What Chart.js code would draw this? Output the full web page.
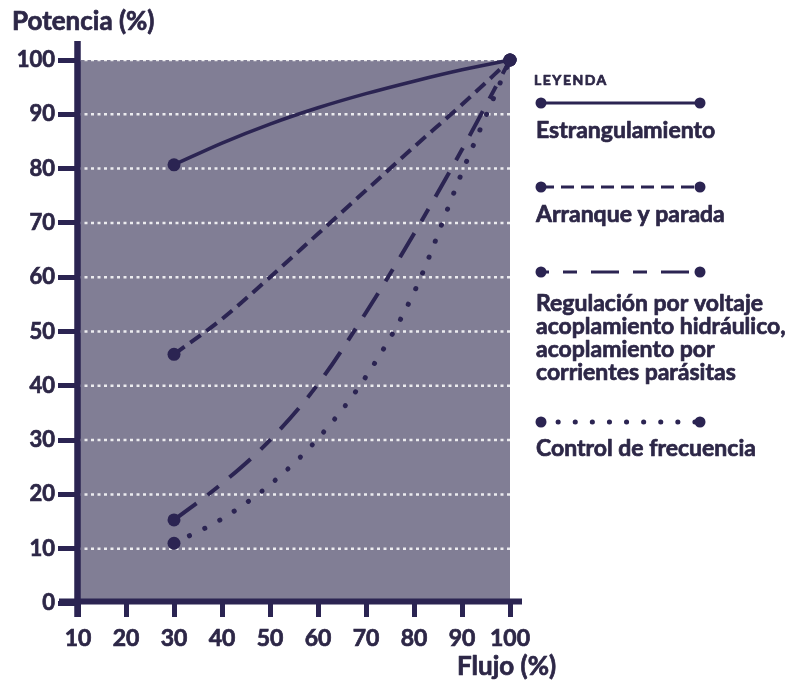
<!DOCTYPE html>
<html>
<head>
<meta charset="utf-8">
<script src="https://cdn.jsdelivr.net/npm/chart.js@4.4.1/dist/chart.umd.min.js"></script>
<style>
  html, body { margin: 0; padding: 0; background: #fff; }
  canvas { display: block; }
</style>
</head>
<body>
<canvas id="chart" width="795" height="685"></canvas>
<script>
// Data
const flujo = [30, 40, 50, 60, 70, 80, 90, 100];
const estrangulamiento = [80.7, 84.7, 88.2, 91.2, 93.8, 96.1, 98.2, 100];
const arranqueParada = [45.8, 52.3, 60, 68, 76, 84, 91.8, 100];
const regulacion = [15.3, 22, 30, 40.3, 53.5, 68, 83.5, 100];
const controlFrecuencia = [11, 15.5, 21.8, 30.3, 41.7, 57.2, 79.3, 100];
const seriesNames = [
  ['Estrangulamiento'],
  ['Arranque y parada'],
  ['Regulación por voltaje', 'acoplamiento hidráulico,', 'acoplamiento por', 'corrientes parásitas'],
  ['Control de frecuencia']
];
const xTicks = [10, 20, 30, 40, 50, 60, 70, 80, 90, 100];
const yTicks = [0, 10, 20, 30, 40, 50, 60, 70, 80, 90, 100];

const ink = '#2b2452';
const textInk = '#2d2747';
const font = 'Lato, "Open Sans", sans-serif';

function points(vals) {
  return flujo.map((x, i) => ({ x: x, y: vals[i] }));
}

const common = {
  borderColor: ink,
  backgroundColor: ink,
  pointBackgroundColor: ink,
  pointBorderWidth: 0,
  pointRadius: ctx => (ctx.dataIndex === 0 || ctx.dataIndex === flujo.length - 1) ? 6.5 : 0,
  pointHoverRadius: 0,
  tension: 0.4,
  cubicInterpolationMode: 'monotone',
  fill: false,
  clip: false
};

const datasets = [
  Object.assign({}, common, { label: seriesNames[0].join(' '), data: points(estrangulamiento), borderWidth: 3.5, borderDash: [] }),
  Object.assign({}, common, { label: seriesNames[1].join(' '), data: points(arranqueParada), borderWidth: 4, borderDash: [13, 7] }),
  Object.assign({}, common, { label: seriesNames[2].join(' '), data: points(regulacion), borderWidth: 4, borderDash: [28, 14, 14, 14] }),
  Object.assign({}, common, { label: seriesNames[3].join(' '), data: points(controlFrecuencia), borderWidth: 5, borderDash: [0.1, 17], borderCapStyle: 'round' })
];

// legend layout: sample line y, first text line y, dash offset
const legendRows = [
  { lineY: 103, textY: 131, offset: 0 },
  { lineY: 187, textY: 215, offset: 0 },
  { lineY: 272, textY: 304, offset: 20 },
  { lineY: 422, textY: 449, offset: 0 }
];

function boldText(ctx, t, x, y) {
  ctx.strokeText(t, x, y);
  ctx.fillText(t, x, y);
}

const decor = {
  id: 'decor',
  beforeDraw(chart) {
    const { ctx, chartArea: a } = chart;
    const y = chart.scales.y;
    ctx.save();
    ctx.fillStyle = '#817e95';
    ctx.fillRect(a.left, a.top, a.right - a.left, a.bottom - a.top);
    ctx.strokeStyle = 'rgba(255,255,255,0.85)';
    ctx.lineWidth = 2.5;
    ctx.setLineDash([3, 3.5]);
    yTicks.filter(v => v > 0).forEach(v => {
      const py = y.getPixelForValue(v);
      ctx.beginPath();
      ctx.moveTo(a.left, py);
      ctx.lineTo(a.right, py);
      ctx.stroke();
    });
    ctx.restore();
  },
  beforeDatasetsDraw(chart) {
    const { ctx, chartArea: a } = chart;
    ctx.save();
    ctx.strokeStyle = ink;
    ctx.lineCap = 'butt';
    ctx.lineWidth = 6.5;
    ctx.beginPath();
    ctx.moveTo(a.left - 0.5, 41);
    ctx.lineTo(a.left - 0.5, a.bottom + 14);
    ctx.stroke();
    ctx.lineWidth = 6;
    ctx.beginPath();
    ctx.moveTo(59, a.bottom - 1.5);
    ctx.lineTo(a.right + 12, a.bottom - 1.5);
    ctx.stroke();
    ctx.restore();
  },
  afterDraw(chart) {
    const { ctx } = chart;
    ctx.save();
    ctx.fillStyle = textInk;
    ctx.strokeStyle = textInk;
    ctx.lineWidth = 0.7;
    ctx.lineJoin = 'round';
    ctx.textBaseline = 'middle';
    ctx.textAlign = 'left';
    ctx.font = 'bold 26px ' + font;
    boldText(ctx, 'Potencia (%)', 12, 22);
    boldText(ctx, 'Flujo (%)', 457, 667);

    ctx.font = 'bold 14px ' + font;
    ctx.letterSpacing = '1.5px';
    boldText(ctx, 'LEYENDA', 534, 80);
    ctx.letterSpacing = '0px';

    chart.data.datasets.forEach((ds, i) => {
      const row = legendRows[i];
      ctx.save();
      ctx.strokeStyle = ds.borderColor;
      ctx.lineWidth = ds.borderWidth === 5 ? 5 : 3;
      ctx.lineCap = ds.borderCapStyle || 'butt';
      ctx.setLineDash(ds.borderDash);
      ctx.lineDashOffset = row.offset;
      ctx.beginPath();
      ctx.moveTo(541, row.lineY);
      ctx.lineTo(700, row.lineY);
      ctx.stroke();
      ctx.setLineDash([]);
      ctx.fillStyle = ds.borderColor;
      [541, 700].forEach(px => {
        ctx.beginPath();
        ctx.arc(px, row.lineY, 5.5, 0, Math.PI * 2);
        ctx.fill();
      });
      ctx.restore();
      ctx.font = 'bold 23px ' + font;
      seriesNames[i].forEach((t, j) => {
        boldText(ctx, t, 536, row.textY + j * 23);
      });
    });
    ctx.restore();
  }
};

new Chart(document.getElementById('chart'), {
  type: 'line',
  data: { datasets: datasets },
  options: {
    responsive: false,
    animation: false,
    events: [],
    layout: { padding: { left: 0, top: 60, right: 285, bottom: 0 } },
    plugins: { legend: { display: false }, tooltip: { enabled: false } },
    scales: {
      x: {
        type: 'linear',
        min: 10,
        max: 100,
        afterBuildTicks: s => { s.ticks = xTicks.map(v => ({ value: v })); },
        afterFit: s => { s.height = 82; },
        ticks: { color: textInk, font: { family: font, size: 23, weight: 'bold' }, padding: 8, maxRotation: 0, autoSkip: false, textStrokeColor: textInk, textStrokeWidth: 0.7 },
        grid: { drawOnChartArea: false, drawTicks: true, tickLength: 14, tickWidth: 5, tickColor: ink },
        border: { display: false }
      },
      y: {
        type: 'linear',
        min: 0,
        max: 100,
        afterBuildTicks: s => { s.ticks = yTicks.map(v => ({ value: v })); },
        afterFit: s => { s.width = 78; },
        ticks: { color: textInk, font: { family: font, size: 22, weight: 'bold' }, padding: 3, autoSkip: false, textStrokeColor: textInk, textStrokeWidth: 0.7 },
        grid: { drawOnChartArea: false, drawTicks: true, tickLength: 20, tickWidth: 5, tickColor: ink },
        border: { display: false }
      }
    }
  },
  plugins: [decor]
});
</script>
</body>
</html>
